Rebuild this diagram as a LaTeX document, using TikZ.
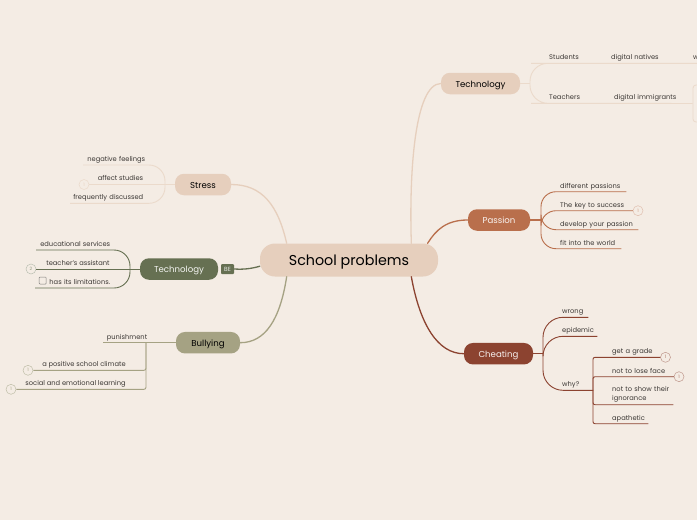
\documentclass[tikz,border=0pt]{standalone}
\usepackage{fontspec}
\setmainfont{Poppins}
\definecolor{bgc}{HTML}{F4ECE4}
\definecolor{peach}{HTML}{E6CFBD}
\definecolor{peachl}{HTML}{EBDACB}
\definecolor{moss}{HTML}{667052}
\definecolor{sand}{HTML}{A5A283}
\definecolor{rust}{HTML}{B96F4C}
\definecolor{brick}{HTML}{8C4330}
\definecolor{ink}{HTML}{3C3835}
\tikzset{
  x=1pt,y=-1pt,
  topicbox/.style={rectangle,rounded corners=9pt,inner sep=0pt,minimum height=21.5pt,text height=7.6pt,text depth=0pt,font=\fontsize{8.6}{10}\selectfont},
  rootbox/.style={rectangle,rounded corners=15pt,fill=peach,inner sep=0pt,minimum width=178pt,minimum height=33pt,text=black,text height=11pt,text depth=0pt,font=\fontsize{14.3}{16}\selectfont},
  leaf/.style={rectangle,inner xsep=0pt,inner ysep=1.7pt,text depth=1.8pt,anchor=south west,text=ink,font=\fontsize{6.7}{9.3}\selectfont},
  lleft/.style={leaf,align=left},
  lright/.style={leaf,align=right},
  marker/.style={circle,draw,fill=bgc,line width=.5pt,inner sep=0pt,minimum size=10pt,text=black!45,font=\fontsize{4.5}{5}\selectfont},
  mainline/.style={line width=1.3pt,line cap=round},
  subline/.style={line width=.9pt,rounded corners=#1},
  subline/.default=16pt
}
\begin{document}
\begin{tikzpicture}
\useasboundingbox[fill=bgc] (0,0) rectangle (697,520);
% topics
\node[rootbox] (root) at (349,260) {School problems};
\node[topicbox,fill=peach,minimum width=56pt,text=black] (stress) at (203,184.5) {Stress};
\node[topicbox,fill=moss,minimum width=78pt,text=white!92!moss] (techl) at (179,269) {Technology};
\node[rectangle,fill=moss,rounded corners=1pt,minimum width=13pt,minimum height=10pt,inner sep=0pt,text=white!85!moss,font=\fontsize{6}{7}\selectfont] (badge) at (227.5,269) {BE};
\node[topicbox,fill=sand,minimum width=64pt,text=black] (bully) at (208,342.7) {Bullying};
\node[topicbox,fill=peach,minimum width=79pt,text=black] (techr) at (480.5,83.5) {Technology};
\node[topicbox,fill=rust,minimum width=62pt,text=white!92!rust] (passion) at (499,220) {Passion};
\node[topicbox,fill=brick,minimum width=69pt,text=white!92!brick] (cheat) at (498.5,353.7) {Cheating};
% root connectors
\draw[mainline,peach] (root.15) .. controls (409,170) and (415,84) .. (techr.west);
\draw[mainline,rust] (root.12) .. controls (436,230) and (446,220) .. (passion.west);
\draw[mainline,brick] (root.-15) .. controls (420,325) and (438,353.7) .. (cheat.west);
\draw[mainline,peach] (root.165) .. controls (278,205) and (262,184.5) .. (stress.east);
\draw[mainline,moss] (root.184.5) .. controls (250,269) and (243,269.5) .. (badge.east);
\draw[mainline,sand] (root.195) .. controls (280,320) and (265,342.7) .. (bully.east);
% Stress
\coordinate (hubS) at (165,184.5);
\node[lright,text width=62pt] (s1) at (83,165) {negative feelings};
\node[lright,text width=73pt] (s3) at (70,203.3) {frequently discussed};
\node[marker,draw=peachl,text=peach] (s2m) at (84,184.5) {1};
\node[leaf,anchor=south] (s2) at (120.5,184.5) {affect studies};
\draw[line width=.9pt,peachl] (stress.west) -- (hubS);
\draw[line width=.9pt,peachl] (hubS) -- (s2m.east);
\draw[subline,peachl] (hubS) |- (s1.south west);
\draw[subline,peachl] (hubS) |- (s3.south west);
% Technology left
\coordinate (hubT) at (130,269);
\node[lright,text width=74pt] (t1) at (36,250) {educational services};
\node[marker,draw=moss!45,text=moss!70] (t2m) at (31,269) {2};
\node[leaf,anchor=south] (t2) at (78,269) {teacher's assistant};
\node[lright,text width=75pt] (t3) at (35,288) {has its limitations.};
\node[rectangle,draw=ink!65,rounded corners=.8pt,line width=.5pt,minimum size=7pt,inner sep=0pt] (t3c) at (42.7,280.5) {};
\draw[line width=.9pt,moss] (techl.west) -- (hubT);
\draw[line width=.9pt,moss] (hubT) -- (t2m.east);
\draw[subline,moss] (hubT) |- (t1.south west);
\draw[subline,moss] (hubT) |- (t3.south west);
% Bullying
\coordinate (hubB) at (146,342.7);
\node[lright,text width=44pt] (b1) at (103,342.7) {punishment};
\node[marker,draw=sand!70,text=sand] (b2m) at (28,370.3) {1};
\node[leaf,anchor=south] (b2) at (84,370.3) {a positive school climate};
\node[marker,draw=sand!70,text=sand] (b3m) at (11,389.3) {1};
\node[leaf,anchor=south] (b3) at (75.5,389.3) {social and emotional learning};
\draw[line width=.9pt,sand] (bully.west) -- (b1.south west);
\draw[subline=2pt,sand] (hubB) |- (b2m.east);
\draw[subline=2pt,sand] (hubB) |- (b3m.east);
% Technology right
\coordinate (hubR) at (530,83.5);
\coordinate (edge) at (700,63.3);
\node[lleft,text width=55pt] (r1) at (549,63.3) {Students};
\node[lleft,text width=78pt] (r2) at (611,63.3) {digital natives};
\node[lleft] (r3) at (693,63.3) {w};
\node[lleft,text width=64pt] (r4) at (549,103.3) {Teachers};
\node[lleft,text width=70pt] (r5) at (614,103.3) {digital immigrants};
\node[rectangle,draw=peachl,rounded corners=3pt,line width=.8pt,minimum width=24pt,minimum height=37pt,inner sep=0pt] (r6) at (705,103.5) {};
\draw[line width=.9pt,peachl] (techr.east) -- (hubR);
\draw[subline=18pt,peachl] (hubR) |- (r1.south west) -- (r2.south west) -- (edge);
\draw[subline=18pt,peachl] (hubR) |- (r4.south west) -- (r5.south west) -- (r6.west);
% Passion
\coordinate (hubP) at (541,220);
\node[lleft,text width=66pt] (p1) at (560,191.7) {different passions};
\node[lleft,text width=70pt] (p2) at (560,210.7) {The key to success};
\node[marker,draw=rust!45,text=rust!70] (p2m) at (638,210.7) {1};
\node[lleft,text width=78pt] (p3) at (560,229.7) {develop your passion};
\node[lleft,text width=61pt] (p4) at (560,248.7) {fit into the world};
\draw[line width=1.3pt,rust] (passion.east) -- (hubP);
\draw[subline=15pt,rust] (hubP) |- (p1.south east);
\draw[subline=15pt,rust] (hubP) |- (p2m.west);
\draw[subline=15pt,rust] (hubP) |- (p3.south east);
\draw[subline=15pt,rust] (hubP) |- (p4.south east);
% Cheating
\coordinate (hubC) at (543,353.7);
\coordinate (hubW) at (593,390.3);
\node[lleft,text width=26pt] (c1) at (562,317.3) {wrong};
\node[lleft,text width=35pt] (c2) at (562,336.3) {epidemic};
\node[lleft,text width=31pt] (c3) at (562,390.3) {why?};
\node[lleft,text width=48pt] (w1) at (612,357.3) {get a grade};
\node[marker,draw=brick!55,text=brick!75] (w1m) at (665.5,357.3) {1};
\node[lleft,text width=60pt] (w2) at (612,376.7) {not to lose face};
\node[marker,draw=brick!55,text=brick!75] (w2m) at (679,376.7) {1};
\node[lleft,text width=61pt,text depth=] (w3) at (612,404.7) {not to show their\\ignorance};
\node[lleft,text width=36pt] (w4) at (612,423.7) {apathetic};
\draw[line width=1.3pt,brick] (cheat.east) -- (hubC);
\draw[subline=20pt,brick] (hubC) |- (c1.south east);
\draw[subline=20pt,brick] (hubC) |- (c2.south east);
\draw[subline=20pt,brick] (hubC) |- (c3.south east);
\draw[subline=2pt,brick] (hubW) |- (w1m.west);
\draw[subline=2pt,brick] (hubW) |- (w2m.west);
\draw[subline=2pt,brick] (hubW) |- (w3.south east);
\draw[subline=2pt,brick] (hubW) |- (w4.south east);
\end{tikzpicture}
\end{document}
